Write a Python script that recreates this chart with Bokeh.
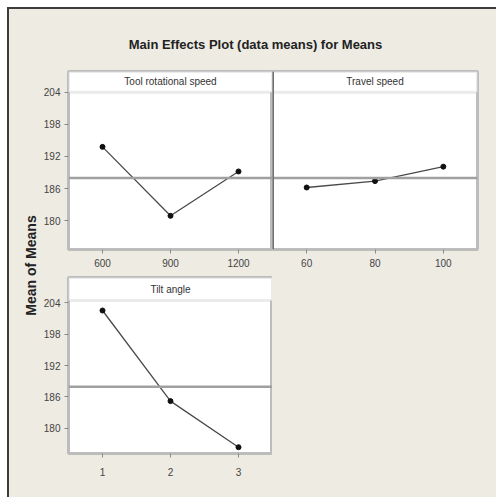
import numpy as np
from bokeh.plotting import figure
from bokeh.models import Span, BoxAnnotation, Label, FixedTicker, Range1d, Spacer
from bokeh.layouts import row, column
from bokeh.embed import file_html
from bokeh.resources import INLINE

# ---------------- data ----------------
TITLE = "Main Effects Plot (data means) for Means"
Y_LABEL = "Mean of Means"
FACTORS = ["Tool rotational speed", "Travel speed", "Tilt angle"]
TOOL_LEVELS = [600, 900, 1200]
TOOL_MEANS = [193.8, 180.9, 189.2]
TRAVEL_LEVELS = [60, 80, 100]
TRAVEL_MEANS = [186.2, 187.4, 190.1]
TILT_LEVELS = [1, 2, 3]
TILT_MEANS = [202.5, 185.2, 176.4]
Y_TICKS = [180, 186, 192, 198, 204]

GRAND_MEAN = float(np.mean(TOOL_MEANS + TRAVEL_MEANS + TILT_MEANS))

BG = "#eeebe3"
FONT = "Liberation Sans"
GRAY = "#bcbcbc"


def blank(width, height):
    p = figure(width=width, height=height, x_range=Range1d(0, width), y_range=Range1d(0, height),
               output_backend="svg", toolbar_location=None,
               x_axis_location=None, y_axis_location=None,
               min_border=0, min_border_left=0, min_border_right=0, min_border_top=0, min_border_bottom=0)
    p.background_fill_color = BG
    p.border_fill_color = BG
    p.outline_line_color = None
    p.grid.visible = False
    return p


def panel(levels, means, label, width, height, x_rng, y_rng, strip_bottom,
          bl, br, bt, bb, show_y=True, x_standoff=5):
    p = figure(width=width, height=height,
               x_range=Range1d(*x_rng), y_range=Range1d(*y_rng),
               output_backend="svg", toolbar_location=None,
               y_axis_location="left" if show_y else None,
               min_border_left=bl, min_border_right=br,
               min_border_top=bt, min_border_bottom=bb)
    p.background_fill_color = "white"
    p.border_fill_color = BG
    p.outline_line_color = GRAY
    p.outline_line_width = 3
    p.grid.visible = False
    for ax in p.axis:
        ax.axis_line_color = None
        ax.major_tick_in = 0
        ax.major_tick_out = 4
        ax.minor_tick_line_color = None
        ax.major_tick_line_color = "#8a8a8a"
        ax.major_label_text_font = FONT
        ax.major_label_text_font_size = "10px"
        ax.major_label_text_color = "#444444"
    p.xaxis.ticker = FixedTicker(ticks=levels)
    p.xaxis.major_label_standoff = x_standoff
    if show_y:
        p.yaxis.ticker = FixedTicker(ticks=Y_TICKS)
        p.yaxis.major_label_standoff = 4
    p.add_layout(BoxAnnotation(bottom=strip_bottom, fill_color="white", fill_alpha=1.0,
                               line_color=GRAY, line_width=3))
    p.add_layout(Span(location=GRAND_MEAN, dimension="width", line_color="#a0a0a0", line_width=2.5))
    p.line(levels, means, line_color="#4a4a4a", line_width=1.3)
    p.scatter(levels, means, size=5, color="#111111")
    p.add_layout(Label(x=(x_rng[0] + x_rng[1]) / 2, y=(strip_bottom + y_rng[1]) / 2, text=label,
                       text_align="center", text_baseline="middle",
                       text_font=FONT, text_font_size="10px", text_color="#333333"))
    return p


TOP_Y = (174.6, 207.9)
TOP_STRIP = 204.0
BOT_Y = (175.2, 208.8)
BOT_STRIP = 204.4

f1 = panel(TOOL_LEVELS, TOOL_MEANS, FACTORS[0], 232, 206, (450, 1350), TOP_Y, TOP_STRIP,
           27, 0, 2, 26)
f2 = panel(TRAVEL_LEVELS, TRAVEL_MEANS, FACTORS[1], 224, 206, (50, 110), TOP_Y, TOP_STRIP,
           0, 19, 2, 26, show_y=False)
f2.add_layout(Span(location=50, dimension="height", line_color="#707070", line_width=3))
f3 = panel(TILT_LEVELS, TILT_MEANS, FACTORS[2], 232, 222, (0.5, 3.5), BOT_Y, BOT_STRIP,
           27, 0, 2, 44, x_standoff=10)

header = blank(487, 60)
header.add_layout(Label(x=246, y=25, text=TITLE, text_align="center", text_baseline="middle",
                        text_font=FONT, text_font_size="13px", text_font_style="bold",
                        text_color="#222222"))

ylab = blank(31, 428)
ylab.add_layout(Label(x=21, y=232, text=Y_LABEL, angle=np.pi / 2, text_align="center",
                      text_baseline="middle", text_font=FONT, text_font_size="14px",
                      text_font_style="bold", text_color="#222222"))

filler = Spacer(width=224, height=222, styles={"background-color": BG})

grid = column(row(f1, f2, spacing=0), row(f3, filler, spacing=0), spacing=0)
body = row(ylab, grid, spacing=0)
p = column(header, body, spacing=0,
           styles={"background-color": BG, "border-left": "2px solid #3c3c3c",
                   "border-top": "2px solid #3c3c3c",
                   "margin-left": "7px", "margin-top": "7px"})

open("out.html", "w").write(file_html(p, INLINE))
